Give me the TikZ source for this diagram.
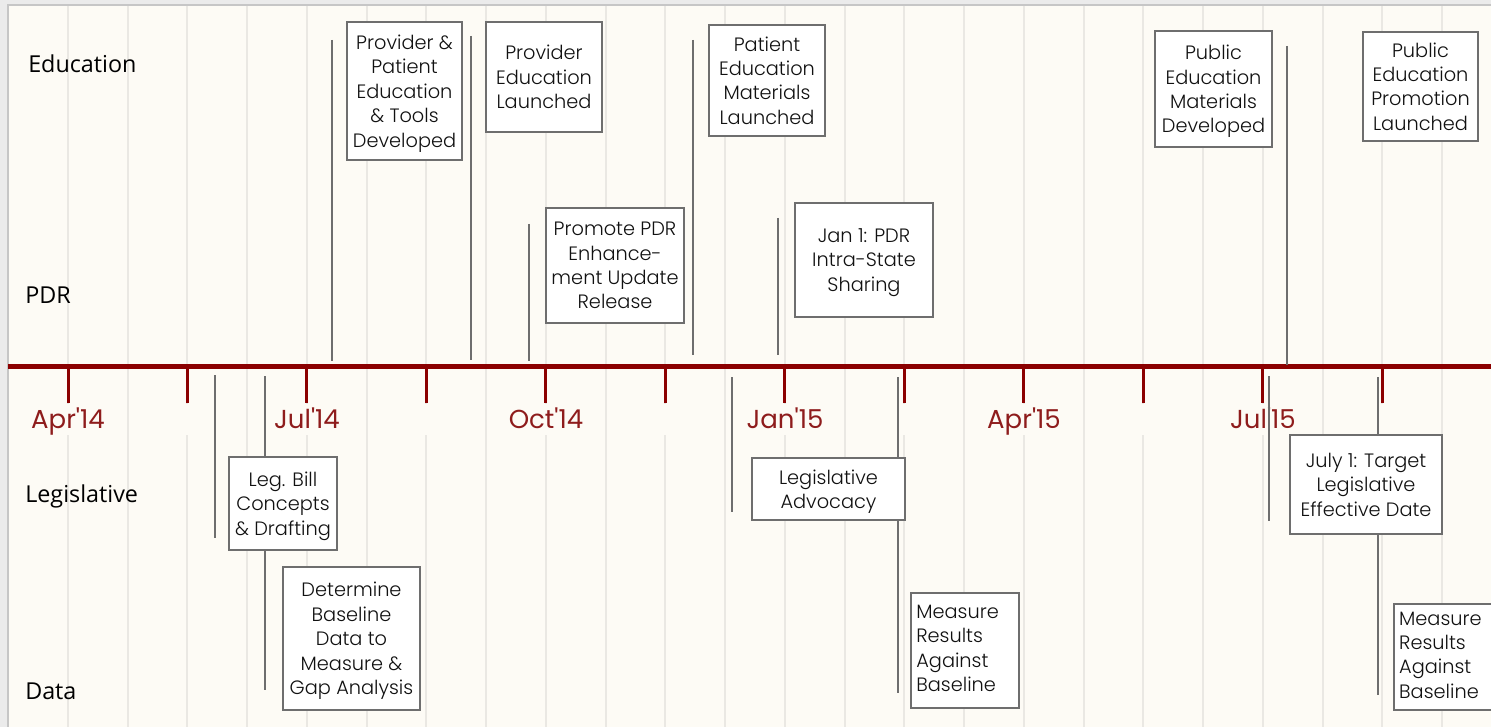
\documentclass[tikz,border=0pt]{standalone}
\usepackage{fontspec}
\setmainfont{Poppins}[UprightFont=* Light]
\newfontfamily\datefont{Poppins}
\newfontfamily\rowfont{Open Sans}
\definecolor{cream}{HTML}{FDFBF5}
\definecolor{outgray}{HTML}{EBEBEB}
\definecolor{edgegray}{HTML}{C6C6C6}
\definecolor{gridgray}{HTML}{EAE8E3}
\definecolor{stemgray}{HTML}{6E6E6E}
\definecolor{axisred}{HTML}{8B0000}
\definecolor{datered}{HTML}{8E1C1C}
\definecolor{ink}{HTML}{111111}

\begin{document}
\begin{tikzpicture}[x=0.75pt,y=0.75pt,yscale=-1,xscale=1,
  evt/.style={draw=stemgray,line width=1.1pt,fill=white,inner sep=0pt,align=center,text=ink,
    text depth=-4pt,font=\fontsize{14.5}{18.3}\selectfont},
  meas/.style={evt,align=left,inner xsep=4pt,text width=73pt,text depth=58pt},
  stem/.style={draw=stemgray,line width=1pt},
  grid/.style={draw=gridgray,line width=1.5pt},
  datelbl/.style={anchor=base,text=datered,font=\datefont\fontsize{19.5}{23}\selectfont},
  rowlbl/.style={anchor=base west,inner sep=0pt,text=black,font=\rowfont\fontsize{17.5}{21}\selectfont}]
\useasboundingbox (0,0) rectangle (1491,727);

%Background
\fill[outgray] (0,0) rectangle (1491,727);
\filldraw[fill=cream,draw=edgegray,line width=1pt] (8,5) rectangle (1500,735);
%Grid lines
\foreach \k in {0,...,23}
  \draw[grid] ({68+59.74*\k},6) -- ({68+59.74*\k},727);
\foreach \k in {0,...,11}
  \fill[cream] ({68+119.48*\k-40},404) rectangle ({68+119.48*\k+40},435);

%Time axis
\draw[axisred,line width=3.75pt] (8,366) -- (1491,366);
\foreach \k in {0,...,11}
  \draw[axisred,line width=2.25pt] ({68+119.48*\k},366) -- ({68+119.48*\k},403);

% Date labels
\node[datelbl] (apr14) at (68,428) {Apr\textquotesingle 14};
\node[datelbl] (jul14) at (307,428) {Jul\textquotesingle 14};
\node[datelbl] (oct14) at (546,428) {Oct\textquotesingle 14};
\node[datelbl] (jan15) at (785,428) {Jan\textquotesingle 15};
\node[datelbl] (apr15) at (1024,428) {Apr\textquotesingle 15};
\node[datelbl] (jul15) at (1263,428) {Jul\textquotesingle 15};

% Row labels
\node[rowlbl] (rEdu) at (28,73) {Education};
\node[rowlbl] (rPdr) at (25,303) {PDR};
\node[rowlbl] (rLeg) at (25,502) {Legislative};
\node[rowlbl] (rData) at (25,699) {Data};

%Stems
\foreach \n/\x/\ya/\yb in {a/332/40/361, b/471/36/360, c/529/224/361, d/693/40/355,
    e/778/218/355, f/1287/46/365, g/215/375/538, h/265/376/690, i/732/377/512,
    j/898/377/693, k/1269/376/521, l/1378/377/695}{
  \coordinate (s\n0) at (\x,\ya);
  \coordinate (s\n1) at (\x,\yb);
  \draw[stem] (s\n0) -- (s\n1);
}

% Education and PDR events
\node[evt,minimum width=86.25pt,minimum height=103.5pt] (ppTools) at (404.5,91) {Provider \&\\Patient\\Education\\\& Tools\\Developed};
\node[evt,minimum width=87pt,minimum height=82.5pt] (provLaunch) at (544,77) {Provider\\Education\\Launched};
\node[evt,minimum width=103.5pt,minimum height=86.25pt] (pdrPromo) at (615,265.5) {Promote PDR\\Enhance-\\ment Update\\Release};
\node[evt,minimum width=87pt,minimum height=83.25pt] (patLaunch) at (767,80.5) {Patient\\Education\\Materials\\Launched};
\node[evt,minimum width=103.5pt,minimum height=85.5pt] (pdrShare) at (864,260) {Jan 1: PDR\\Intra-State\\Sharing};
\node[evt,minimum width=87.75pt,minimum height=87pt] (pubDev) at (1213.5,89) {Public\\Education\\Materials\\Developed};
\node[evt,minimum width=86.25pt,minimum height=81.75pt] (pubLaunch) at (1420.5,86.5) {Public\\Education\\Promotion\\Launched};

% Legislative and Data events
\node[evt,minimum width=81pt,minimum height=69.75pt] (legBill) at (283,503.5) {Leg. Bill\\Concepts\\\& Drafting};
\node[evt,minimum width=102.75pt,minimum height=107.25pt] (baseData) at (351.5,638.5) {Determine\\Baseline\\Data to\\Measure \&\\Gap Analysis};
\node[evt,minimum width=114.75pt,minimum height=46.5pt] (legAdv) at (828.5,489) {Legislative\\Advocacy};
\node[meas,minimum height=86.25pt] (measA) at (965,650.5) {Measure\\Results\\Against\\Baseline};
\node[evt,minimum width=114pt,minimum height=74.25pt] (target) at (1366,484.5) {July 1: Target\\Legislative\\Effective Date};
\node[meas,text width=80pt,minimum height=79.5pt] (measB) at (1452.5,657) {Measure\\Results\\Against\\Baseline};

\end{tikzpicture}
\end{document}
